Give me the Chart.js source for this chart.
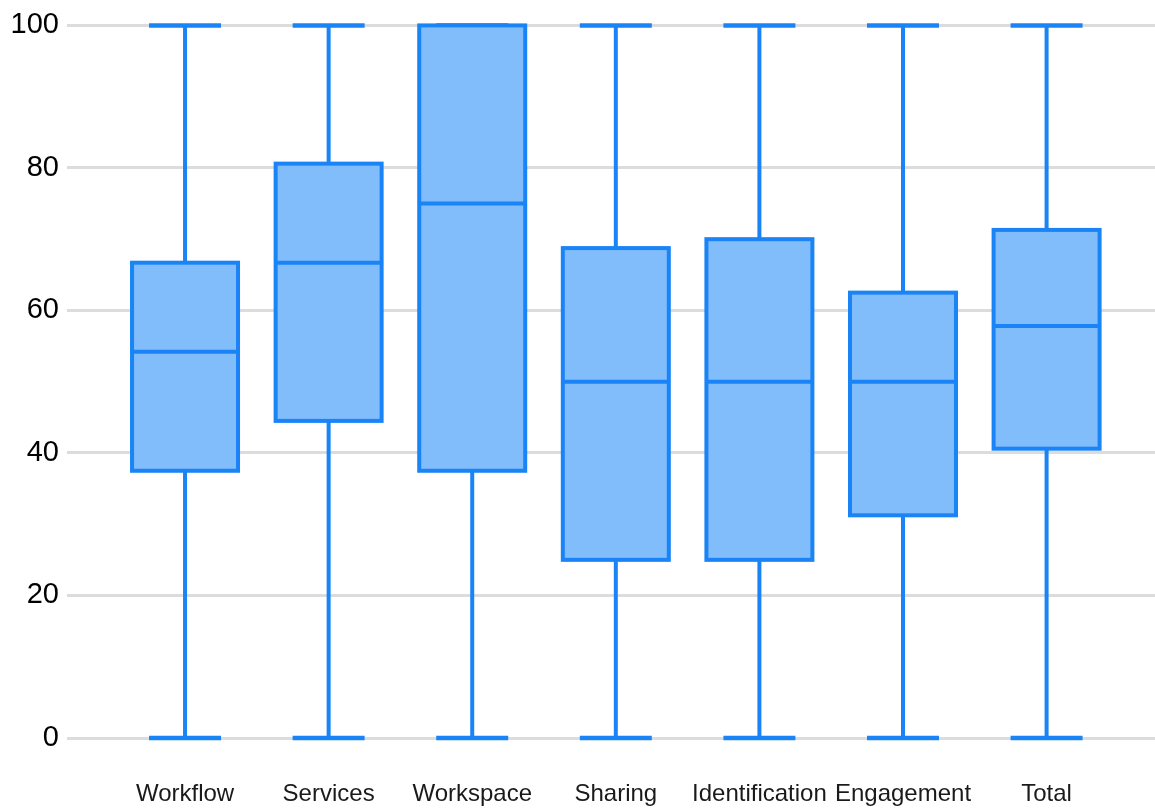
<!DOCTYPE html>
<html>
<head>
<meta charset="utf-8">
<script src="https://cdn.jsdelivr.net/npm/chart.js@4"></script>
<style>
  html, body { margin: 0; padding: 0; background: #fff; }
  #wrap { width: 1155px; height: 809px; }
</style>
</head>
<body>
<div id="wrap"><canvas id="boxchart"></canvas></div>
<script>
const categories = ['Workflow', 'Services', 'Workspace', 'Sharing', 'Identification', 'Engagement', 'Total'];
const minValues = [0, 0, 0, 0, 0, 0, 0];
const q1Values = [37.5, 44.5, 37.5, 25, 25, 31.25, 40.6];
const medianValues = [54.2, 66.7, 75, 50, 50, 50, 57.8];
const q3Values = [66.7, 80.6, 100, 68.75, 70, 62.5, 71.3];
const maxValues = [100, 100, 100, 100, 100, 100, 100];
const yTicks = [0, 20, 40, 60, 80, 100];

const lineColor = '#1a84f7';
const fillColor = '#80bdfa';

// whiskers + caps under the boxes, box outline + median on top
const boxPlot = {
    id: 'boxPlot',
    beforeDatasetsDraw(chart) {
        let ctx = chart.ctx;
        let x = chart.scales.x, y = chart.scales.y;
        ctx.save();
        ctx.strokeStyle = lineColor;
        ctx.lineWidth = 4;
        categories.forEach((c, i) => {
            let cx = x.getPixelForValue(i);
            ctx.beginPath();
            ctx.moveTo(cx, y.getPixelForValue(minValues[i]));
            ctx.lineTo(cx, y.getPixelForValue(maxValues[i]));
            ctx.stroke();
            ctx.lineWidth = 4.5;
            [minValues[i], maxValues[i]].forEach(v => {
                ctx.beginPath();
                ctx.moveTo(cx - 36, y.getPixelForValue(v));
                ctx.lineTo(cx + 36, y.getPixelForValue(v));
                ctx.stroke();
            });
            ctx.lineWidth = 4;
        });
        ctx.restore();
    },
    afterDatasetsDraw(chart) {
        let ctx = chart.ctx;
        let y = chart.scales.y;
        let meta = chart.getDatasetMeta(0);
        ctx.save();
        ctx.strokeStyle = lineColor;
        ctx.lineWidth = 4;
        meta.data.forEach((bar, i) => {
            let left = bar.x - bar.width / 2;
            let top = y.getPixelForValue(q3Values[i]);
            let bottom = y.getPixelForValue(q1Values[i]);
            ctx.strokeRect(left, top, bar.width, bottom - top);
            let m = y.getPixelForValue(medianValues[i]);
            ctx.beginPath();
            ctx.moveTo(left, m);
            ctx.lineTo(left + bar.width, m);
            ctx.stroke();
        });
        ctx.restore();
    }
};

let ctx = document.getElementById('boxchart').getContext('2d');
new Chart(ctx, {
    type: 'bar',
    data: {
        datasets: [{
            label: 'IQR',
            data: categories.map((c, i) => ({ x: i, y: [q1Values[i], q3Values[i]] })),
            backgroundColor: fillColor,
            borderWidth: 0,
            barThickness: 106
        }]
    },
    plugins: [boxPlot],
    options: {
        responsive: true,
        maintainAspectRatio: false,
        animation: { duration: 0 },
        layout: { padding: { top: 23, right: 0, left: 0, bottom: 0 } },
        plugins: {
            legend: { display: false },
            tooltip: { enabled: false }
        },
        scales: {
            x: {
                type: 'linear',
                offset: false,
                min: -0.822,
                max: 6.755,
                afterBuildTicks: axis => { axis.ticks = categories.map((c, i) => ({ value: i })); },
                afterFit: axis => { axis.height = 71; },
                grid: { display: false, drawTicks: false },
                border: { display: false },
                ticks: {
                    autoSkip: false,
                    maxRotation: 0,
                    padding: 42,
                    color: '#1a1a1a',
                    font: { family: 'Liberation Sans', size: 24 },
                    callback: v => categories[v]
                }
            },
            y: {
                min: 0,
                max: 100,
                afterBuildTicks: axis => { axis.ticks = yTicks.map(v => ({ value: v })); },
                afterFit: axis => { axis.width = 67; },
                grid: { color: '#dcdcdc', lineWidth: 3, drawTicks: false },
                border: { display: false },
                ticks: {
                    padding: 8,
                    color: '#000',
                    font: { family: 'Liberation Sans', size: 29 }
                }
            }
        }
    }
});
</script>
</body>
</html>
